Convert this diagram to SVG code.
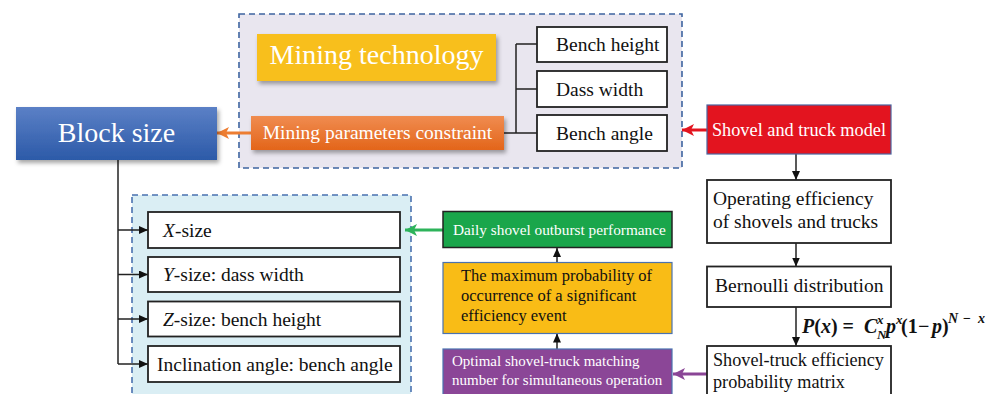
<svg xmlns="http://www.w3.org/2000/svg" width="997" height="394" viewBox="0 0 997 394">
<style>
.w{fill:#fff;}
.k{fill:#111;}
.box{fill:#fff;stroke:#222;stroke-width:1.8;}
.t19{font-size:19.5px;}
.t18{font-size:18.2px;}
.c{text-anchor:middle;}
.ln{stroke:#222;stroke-width:1.5;fill:none;}
.it{font-style:italic;}
</style>
<defs>
<linearGradient id="gBlue" x1="0" y1="0" x2="0" y2="1"><stop offset="0" stop-color="#5b80c6"/><stop offset="1" stop-color="#2c5aa8"/></linearGradient>
<linearGradient id="gOrange" x1="0" y1="0" x2="0" y2="1"><stop offset="0" stop-color="#f08c50"/><stop offset="1" stop-color="#e3651a"/></linearGradient>
<filter id="sh" x="-10%" y="-20%" width="125%" height="150%"><feDropShadow dx="2" dy="3" stdDeviation="2" flood-color="#000" flood-opacity="0.35"/></filter>
<marker id="mK" markerUnits="userSpaceOnUse" markerWidth="9" markerHeight="8" refX="9" refY="4" orient="auto"><path d="M0,0 L9,4 L0,8 z" fill="#111"/></marker>
<marker id="mO" markerUnits="userSpaceOnUse" markerWidth="12" markerHeight="12" refX="12" refY="6" orient="auto"><path d="M0,0 L12,6 L0,12 L3,6 z" fill="#ed7d31"/></marker>
<marker id="mR" markerUnits="userSpaceOnUse" markerWidth="12" markerHeight="12" refX="12" refY="6" orient="auto"><path d="M0,0 L12,6 L0,12 L3,6 z" fill="#e3141f"/></marker>
<marker id="mG" markerUnits="userSpaceOnUse" markerWidth="12" markerHeight="12" refX="12" refY="6" orient="auto"><path d="M0,0 L12,6 L0,12 L3,6 z" fill="#2db35a"/></marker>
<marker id="mP" markerUnits="userSpaceOnUse" markerWidth="12" markerHeight="12" refX="12" refY="6" orient="auto"><path d="M0,0 L12,6 L0,12 L3,6 z" fill="#8a4596"/></marker>
</defs>
<rect width="997" height="394" fill="#fff"/>

<g id="group-mining">
<rect x="239" y="14" width="443" height="154" fill="#e9e6ef" stroke="#3e64a0" stroke-width="1.6" stroke-dasharray="6,4"/>
</g>
<g id="group-size">
<rect x="132" y="195" width="279" height="210" fill="#daeef4" stroke="#4a72b0" stroke-width="1.6" stroke-dasharray="6,4"/>
</g>

<g id="connectors">
<path class="ln" d="M118,160 V364"/>
<path class="ln" d="M118,230 H148" marker-end="url(#mK)"/>
<path class="ln" d="M118,274.5 H148" marker-end="url(#mK)"/>
<path class="ln" d="M118,319 H148" marker-end="url(#mK)"/>
<path class="ln" d="M118,364 H148" marker-end="url(#mK)"/>
<path class="ln" d="M504,133 H537 M516,44 V133 M516,44 H537 M516,89 H537"/>
<path d="M251,133 H217" stroke="#ed7d31" stroke-width="3" fill="none" marker-end="url(#mO)"/>
<path d="M707,130 H682" stroke="#e3141f" stroke-width="3" fill="none" marker-end="url(#mR)"/>
<path d="M443,230 H405" stroke="#2db35a" stroke-width="3" fill="none" marker-end="url(#mG)"/>
<path d="M707,374 H673" stroke="#8a4596" stroke-width="3" fill="none" marker-end="url(#mP)"/>
<path class="ln" d="M796,154 V180" marker-end="url(#mK)"/>
<path class="ln" d="M796,243 V266.5" marker-end="url(#mK)"/>
<path class="ln" d="M796,307 V346" marker-end="url(#mK)"/>
<path class="ln" d="M557,349 V333.5" marker-end="url(#mK)"/>
<path class="ln" d="M557,262.5 V248" marker-end="url(#mK)"/>
</g>

<g font-family="'Liberation Serif', 'DejaVu Serif', serif">
<g id="block-size">
<rect x="16" y="107" width="201" height="53" fill="url(#gBlue)" filter="url(#sh)"/>
<text class="w c" x="116.5" y="142" font-size="28">Block size</text>
</g>
<g id="mining-technology">
<rect x="257" y="34" width="239" height="47" fill="#f8bf1c" filter="url(#sh)"/>
<text class="w c" x="376.5" y="64" font-size="28">Mining technology</text>
</g>
<g id="mining-parameters">
<rect x="251" y="116" width="253" height="34" fill="url(#gOrange)" filter="url(#sh)"/>
<text class="w c" x="377.5" y="138.5" font-size="19.5">Mining parameters constraint</text>
</g>
<g id="bench-height">
<rect class="box" x="537" y="27" width="130" height="35"/>
<text class="k t19" x="556" y="51">Bench height</text>
</g>
<g id="dass-width">
<rect class="box" x="537" y="71" width="130" height="36"/>
<text class="k t19" x="556" y="96">Dass width</text>
</g>
<g id="bench-angle">
<rect class="box" x="537" y="115" width="130" height="36"/>
<text class="k t19" x="556" y="140">Bench angle</text>
</g>
<g id="shovel-truck-model">
<rect x="707" y="105" width="184" height="49" fill="#e3141f" stroke="#4a64a0" stroke-width="1.2"/>
<text class="w c" x="799" y="136" font-size="18.3">Shovel and truck model</text>
</g>
<g id="x-size">
<rect class="box" x="148" y="212" width="252" height="36"/>
<text class="k t19" x="163" y="237"><tspan class="it">X</tspan>-size</text>
</g>
<g id="y-size">
<rect class="box" x="148" y="257" width="252" height="35"/>
<text class="k t19" x="163" y="281"><tspan class="it">Y</tspan>-size: dass width</text>
</g>
<g id="z-size">
<rect class="box" x="148" y="301.5" width="252" height="35"/>
<text class="k t19" x="163" y="326"><tspan class="it">Z</tspan>-size: bench height</text>
</g>
<g id="inclination">
<rect class="box" x="148" y="346" width="252" height="36"/>
<text class="k t19" x="157" y="371">Inclination angle: bench angle</text>
</g>
<g id="daily-shovel">
<rect x="443" y="211.5" width="229" height="36" fill="#1aa64b" stroke="#222" stroke-width="1.5"/>
<text class="w" x="453" y="234.5" font-size="15.3">Daily shovel outburst performance</text>
</g>
<g id="max-probability">
<rect x="443" y="262.5" width="229" height="71" fill="#f9bc16" stroke="#4a72b0" stroke-width="1.2"/>
<text class="k" font-size="16.5"><tspan x="461" y="281">The maximum probability of</tspan><tspan x="461" y="301">occurrence of a significant</tspan><tspan x="461" y="321">efficiency event</tspan></text>
</g>
<g id="optimal-matching">
<rect x="443" y="349" width="229" height="50" fill="#8b4697" stroke="#4a72b0" stroke-width="1.2"/>
<text class="w" font-size="15"><tspan x="452" y="366">Optimal shovel-truck matching</tspan><tspan x="452" y="385">number for simultaneous operation</tspan></text>
</g>
<g id="operating-efficiency">
<rect class="box" x="707" y="180" width="184" height="63"/>
<text class="k t19"><tspan x="713" y="205">Operating efficiency</tspan><tspan x="713" y="228">of shovels and trucks</tspan></text>
</g>
<g id="bernoulli">
<rect class="box" x="707" y="266.5" width="184" height="40.5"/>
<text class="k t19" x="715" y="292">Bernoulli distribution</text>
</g>
<g id="efficiency-matrix">
<rect class="box" x="707" y="346" width="184" height="55"/>
<text class="k t18"><tspan x="713" y="366">Shovel-truck efficiency</tspan><tspan x="713" y="388">probability matrix</tspan></text>
</g>
<g id="formula" font-weight="bold" font-size="20" fill="#111">
<text x="802" y="333"><tspan class="it">P</tspan>(<tspan class="it">x</tspan>) =</text>
<text x="864" y="333" class="it">C</text>
<text x="877" y="324" font-size="13" class="it">x</text>
<text x="877" y="339" font-size="13" class="it">N</text>
<text x="886" y="333" class="it">p</text>
<text x="896" y="324" font-size="13" class="it">x</text>
<text x="901" y="333">(1</text>
<text x="918" y="333">−</text>
<text x="932" y="333"><tspan class="it">p</tspan>)</text>
<text x="948" y="323" font-size="14" class="it">N</text>
<text x="963" y="323" font-size="14">−</text>
<text x="978" y="323" font-size="14" class="it">x</text>
</g>
</g>
</svg>
